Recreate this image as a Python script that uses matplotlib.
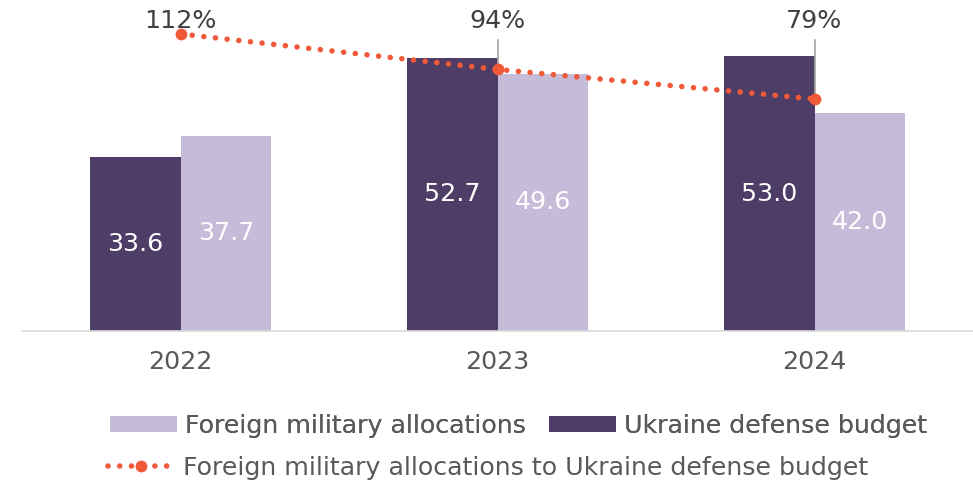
import numpy as np
import matplotlib.pyplot as plt
from matplotlib.patches import Patch
from matplotlib.lines import Line2D

years = ['2022', '2023', '2024']
ukraine_budget = [33.6, 52.7, 53.0]
foreign_alloc = [37.7, 49.6, 42.0]
ratio_pct = [112, 94, 79]

dark = '#4E3D66'
light = '#C6BCD9'
orange = '#F05A38'
grey_txt = '#595959'
fs = 18.2

plt.rcParams['font.family'] = 'DejaVu Sans'

W, H = 973, 480
fig = plt.figure(figsize=(W / 100, H / 100), dpi=100)
ax = fig.add_axes([22 / W, (H - 331) / H, (W - 22) / W, (331 - 20) / H])

x = np.arange(len(years))
bw = 0.287
b1 = ax.bar(x - bw / 2, ukraine_budget, bw, color=dark, linewidth=0)
b2 = ax.bar(x + bw / 2, foreign_alloc, bw, color=light, linewidth=0)

for bars, vals in [(b1, ukraine_budget), (b2, foreign_alloc)]:
    for r, v in zip(bars, vals):
        ax.text(r.get_x() + r.get_width() / 2, v / 2, f'{v:.1f}',
                ha='center', va='center', color='white', fontsize=fs)

ax.set_xlim(-0.5, 2.5)
ax.set_ylim(0, 311 / 5.185)
ax.set_yticks([])
ax.set_xticks(x)
ax.set_xticklabels(years, fontsize=fs, color=grey_txt)
ax.tick_params(axis='x', length=0, pad=14)
for s in ['top', 'right', 'left']:
    ax.spines[s].set_visible(False)
ax.spines['bottom'].set_color('#D9D9D9')
ax.spines['bottom'].set_linewidth(1.2)

# secondary axis for the ratio line
ax2 = ax.twinx()
ax2.set_ylim((254.6 - 331) / 1.97, (254.6 - 20) / 1.97)
ax2.axis('off')
dot_style = (0, (0.01, 2.1))
ax2.plot(x, ratio_pct, color=orange, lw=4.0, linestyle=dot_style,
         dash_capstyle='round', marker='o', markersize=7.5, zorder=3)

label_y = 118.5
for xi, p in zip(x, ratio_pct):
    ax2.text(xi, label_y, f'{p}%', ha='center', va='center',
             fontsize=fs, color='#404040')
    if p < 109:
        ax2.plot([xi, xi], [109, p], color='#A6A6A6', lw=1.2, zorder=2)

h1 = [Patch(facecolor=light), Patch(facecolor=dark)]
leg1 = fig.legend(h1, ['Foreign military allocations', 'Ukraine defense budget'],
                  loc='center left', bbox_to_anchor=(110 / W, 1 - 426 / H),
                  ncol=2, frameon=False, fontsize=fs, handlelength=2.65,
                  handleheight=0.6, handletextpad=0.3, columnspacing=0.95,
                  borderpad=0, borderaxespad=0, labelcolor=grey_txt)
h2 = [Line2D([], [], color=orange, lw=4.0, linestyle=dot_style,
             dash_capstyle='round', marker='o', markersize=7.5)]
leg2 = fig.legend(h2, ['Foreign military allocations to Ukraine defense budget'],
                  loc='center left', bbox_to_anchor=(108 / W, 1 - 468 / H),
                  frameon=False, fontsize=fs, handlelength=2.65, numpoints=1,
                  handletextpad=0.3, borderpad=0, borderaxespad=0,
                  labelcolor=grey_txt)
fig.add_artist(leg1)

fig.savefig('out.png', dpi=100)
